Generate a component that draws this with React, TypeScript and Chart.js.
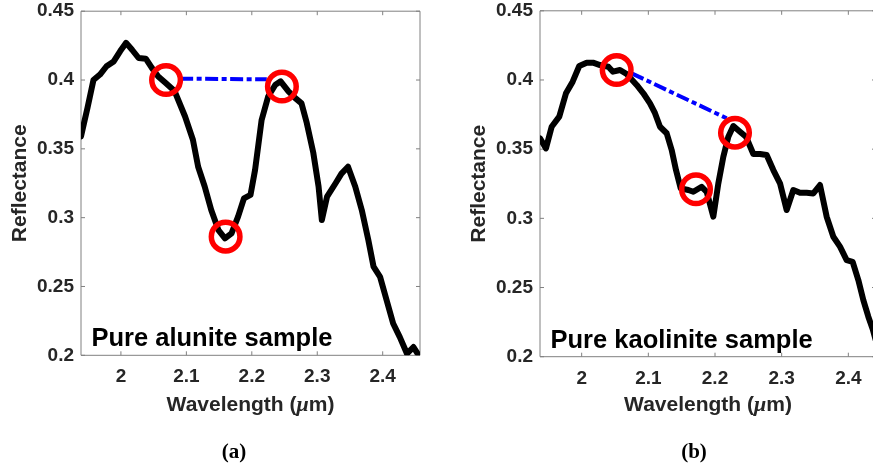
import React, { useEffect, useRef } from "react";
import { Chart, registerables } from "chart.js";

Chart.register(...registerables);

// ---------- Data: Pure alunite sample (panel a) ----------
const alWavelength = [1.939, 1.949, 1.958, 1.968, 1.978, 1.989, 1.999, 2.008, 2.017, 2.027, 2.038, 2.047, 2.057, 2.068, 2.082, 2.098, 2.110, 2.118, 2.128, 2.138, 2.149, 2.159, 2.169, 2.179, 2.188, 2.198, 2.205, 2.215, 2.225, 2.236, 2.244, 2.256, 2.266, 2.276, 2.284, 2.294, 2.302, 2.307, 2.315, 2.328, 2.337, 2.347, 2.358, 2.368, 2.378, 2.386, 2.396, 2.406, 2.416, 2.426, 2.437, 2.447, 2.455];
const alReflectance = [0.359, 0.380, 0.400, 0.404, 0.410, 0.4135, 0.421, 0.427, 0.422, 0.416, 0.4155, 0.409, 0.4026, 0.398, 0.392, 0.3735, 0.3566, 0.337, 0.3226, 0.3056, 0.291, 0.285, 0.2886, 0.3007, 0.314, 0.3165, 0.3347, 0.371, 0.388, 0.3966, 0.399, 0.3917, 0.387, 0.383, 0.3687, 0.347, 0.3226, 0.2983, 0.3153, 0.325, 0.332, 0.337, 0.3226, 0.3056, 0.2838, 0.2644, 0.257, 0.240, 0.2231, 0.2134, 0.2013, 0.206, 0.200];
const alCircleX = [2.069, 2.160, 2.246];
const alCircleY = [0.400, 0.2862, 0.3953];
const alLineX = [2.0905, 2.2229];
const alLineY = [0.401, 0.4005];

// ---------- Data: Pure kaolinite sample (panel b) ----------
const kaWavelength = [1.9375, 1.9465, 1.955, 1.9664, 1.9765, 1.9865, 1.9964, 2.0075, 2.017, 2.0275, 2.04, 2.047, 2.0575, 2.0675, 2.0825, 2.0925, 2.1025, 2.11, 2.1175, 2.1275, 2.135, 2.1415, 2.1485, 2.16, 2.1675, 2.18, 2.1875, 2.1975, 2.205, 2.2125, 2.22, 2.2275, 2.2375, 2.2465, 2.2575, 2.2675, 2.2775, 2.2875, 2.2975, 2.3075, 2.3175, 2.3275, 2.3375, 2.3475, 2.3575, 2.3675, 2.3775, 2.3875, 2.3975, 2.4065, 2.415, 2.4225, 2.43, 2.437, 2.441];
const kaReflectance = [0.3578, 0.3506, 0.3662, 0.3735, 0.3904, 0.3988, 0.4101, 0.4125, 0.4125, 0.4108, 0.4096, 0.406, 0.4072, 0.4043, 0.3964, 0.3904, 0.3831, 0.376, 0.3662, 0.3615, 0.3494, 0.3349, 0.3217, 0.3205, 0.3192, 0.3228, 0.3192, 0.3012, 0.3253, 0.3445, 0.359, 0.3667, 0.3626, 0.359, 0.3465, 0.3465, 0.3458, 0.3349, 0.3253, 0.306, 0.3205, 0.3185, 0.3185, 0.318, 0.3241, 0.3012, 0.2867, 0.2795, 0.2698, 0.2686, 0.2554, 0.2409, 0.2289, 0.2192, 0.212];
const kaCircleX = [2.0525, 2.1715, 2.23];
const kaCircleY = [0.4072, 0.321, 0.3619];
const kaLineX = [2.075, 2.2175];
const kaLineY = [0.4048, 0.3723];

// ---------- Ticks ----------
const xTickValues = [2.0, 2.1, 2.2, 2.3, 2.4];
const xTickLabels = ["2", "2.1", "2.2", "2.3", "2.4"];
const yTickValues = [0.2, 0.25, 0.3, 0.35, 0.4, 0.45];
const yTickLabels = ["0.2", "0.25", "0.3", "0.35", "0.4", "0.45"];

const FONT = "'Liberation Sans', Arial, Helvetica, sans-serif";
const SERIF = "'Liberation Serif', 'Times New Roman', serif";
const AXIS_COLOR = "#808080";
const TEXT_COLOR = "#262626";
const TICK_LEN = 4;
const CANVAS_H = 468;
const AXIS_BOTTOM = 415.6;
const X_TITLE_BASELINE = 411;

function pts(xs: number[], ys: number[]) {
  return xs.map((x, i) => ({ x, y: ys[i] }));
}

function labelFor(values: number[], labels: string[], v: number) {
  const i = values.findIndex((t) => Math.abs(t - v) < 1e-9);
  return i >= 0 ? labels[i] : "";
}

const boxPlugin = {
  id: "matlabBox",
  beforeDatasetsDraw(chart: any) {
    const { ctx, chartArea: a, scales } = chart;
    const xs = scales.x;
    const ys = scales.y;
    ctx.save();
    ctx.strokeStyle = AXIS_COLOR;
    ctx.lineWidth = 1;
    ctx.beginPath();
    ctx.rect(a.left, a.top, a.right - a.left, a.bottom - a.top);
    xs.ticks.forEach((t: any) => {
      const px = xs.getPixelForValue(t.value);
      ctx.moveTo(px, a.bottom);
      ctx.lineTo(px, a.bottom - TICK_LEN);
      ctx.moveTo(px, a.top);
      ctx.lineTo(px, a.top + TICK_LEN);
    });
    ys.ticks.forEach((t: any) => {
      const py = ys.getPixelForValue(t.value);
      ctx.moveTo(a.left, py);
      ctx.lineTo(a.left + TICK_LEN, py);
      ctx.moveTo(a.right, py);
      ctx.lineTo(a.right - TICK_LEN, py);
    });
    ctx.stroke();
    ctx.restore();
  },
};

const labelPlugin = {
  id: "sampleLabel",
  afterDatasetsDraw(chart: any, _args: any, opts: any) {
    const { ctx, chartArea } = chart;
    ctx.save();
    ctx.font = `bold 25.5px ${FONT}`;
    ctx.fillStyle = "#000";
    ctx.textAlign = "left";
    ctx.textBaseline = "alphabetic";
    ctx.fillText(opts.text, chartArea.left + 10.5, chartArea.bottom - 9);
    ctx.restore();
  },
};

// x-axis title with an italic Greek mu, like the MATLAB TeX label
const xTitlePlugin = {
  id: "xTitle",
  afterDraw(chart: any) {
    const { ctx, chartArea } = chart;
    const parts: [string, string][] = [
      ["Wavelength (", `bold 21px ${FONT}`],
      ["μ", `italic bold 22px ${SERIF}`],
      ["m)", `bold 21px ${FONT}`],
    ];
    ctx.save();
    let total = 0;
    const widths = parts.map(([t, f]) => {
      ctx.font = f;
      const w = ctx.measureText(t).width;
      total += w;
      return w;
    });
    let x = (chartArea.left + chartArea.right) / 2 - total / 2;
    ctx.fillStyle = TEXT_COLOR;
    ctx.textAlign = "left";
    ctx.textBaseline = "alphabetic";
    parts.forEach(([t, f], i) => {
      ctx.font = f;
      ctx.fillText(t, x, X_TITLE_BASELINE);
      x += widths[i];
    });
    ctx.restore();
  },
};

type Panel = {
  wl: number[];
  refl: number[];
  circleX: number[];
  circleY: number[];
  lineX: number[];
  lineY: number[];
  xMin: number;
  xMax: number;
  label: string;
  yAxisWidth: number;
  padRight: number;
  top: number;
  bottom: number;
  yTitlePad: number;
};

function makeConfig(p: Panel): any {
  const tickFont = { family: FONT, size: 19, weight: "bold" };
  const titleFont = { family: FONT, size: 21, weight: "bold" };
  return {
    type: "line",
    data: {
      datasets: [
        {
          data: pts(p.circleX, p.circleY),
          showLine: false,
          pointRadius: 14.3,
          pointHoverRadius: 14.3,
          pointBorderWidth: 5.5,
          pointBorderColor: "#ff0000",
          pointBackgroundColor: "rgba(0,0,0,0)",
          borderColor: "#ff0000",
          clip: false,
        },
        {
          data: pts(p.wl, p.refl),
          borderColor: "#000000",
          borderWidth: 6,
          pointRadius: 0,
          tension: 0,
          borderJoinStyle: "round",
          borderCapStyle: "round",
        },
        {
          data: pts(p.lineX, p.lineY),
          borderColor: "#0000ff",
          borderWidth: 4,
          borderDash: [13, 3.5, 5, 3.5],
          pointRadius: 0,
          tension: 0,
        },
      ],
    },
    options: {
      animation: false,
      responsive: false,
      maintainAspectRatio: false,
      events: [],
      layout: {
        autoPadding: false,
        padding: { left: 0, right: p.padRight, top: p.top, bottom: CANVAS_H - AXIS_BOTTOM },
      },
      plugins: {
        legend: { display: false },
        tooltip: { enabled: false },
        sampleLabel: { text: p.label },
      },
      scales: {
        x: {
          type: "linear",
          min: p.xMin,
          max: p.xMax,
          afterBuildTicks: (s: any) => {
            s.ticks = xTickValues.map((v) => ({ value: v }));
          },
          afterFit: (s: any) => {
            s.height = AXIS_BOTTOM - p.bottom;
            s.paddingLeft = 0;
            s.paddingRight = 0;
          },
          grid: { display: false, drawTicks: false },
          border: { display: false },
          ticks: {
            padding: 10.5,
            color: TEXT_COLOR,
            font: tickFont,
            maxRotation: 0,
            autoSkip: false,
            callback: (v: number) => labelFor(xTickValues, xTickLabels, v),
          },
          title: { display: false },
        },
        y: {
          type: "linear",
          min: 0.2,
          max: 0.45,
          afterBuildTicks: (s: any) => {
            s.ticks = yTickValues.map((v) => ({ value: v }));
          },
          afterFit: (s: any) => {
            s.width = p.yAxisWidth;
            s.paddingTop = 0;
            s.paddingBottom = 0;
          },
          grid: { display: false, drawTicks: false },
          border: { display: false },
          ticks: {
            padding: 7,
            color: TEXT_COLOR,
            font: tickFont,
            autoSkip: false,
            callback: (v: number) => labelFor(yTickValues, yTickLabels, v),
          },
          title: {
            display: true,
            text: "Reflectance",
            color: TEXT_COLOR,
            font: titleFont,
            padding: { top: p.yTitlePad, bottom: 0 },
          },
        },
      },
    },
    plugins: [boxPlugin, labelPlugin, xTitlePlugin],
  };
}

const panelA: Panel = {
  wl: alWavelength,
  refl: alReflectance,
  circleX: alCircleX,
  circleY: alCircleY,
  lineX: alLineX,
  lineY: alLineY,
  xMin: 1.939,
  xMax: 2.457,
  label: "Pure alunite sample",
  yAxisWidth: 81,
  padRight: 20,
  top: 11.2,
  bottom: 355.3,
  yTitlePad: 8,
};

const panelB: Panel = {
  wl: kaWavelength,
  refl: kaReflectance,
  circleX: kaCircleX,
  circleY: kaCircleY,
  lineX: kaLineX,
  lineY: kaLineY,
  xMin: 1.9375,
  xMax: 2.4415,
  label: "Pure kaolinite sample",
  yAxisWidth: 100,
  padRight: 9,
  top: 10.8,
  bottom: 356.7,
  yTitlePad: 26.6,
};

function PanelChart({ panel, left, width }: { panel: Panel; left: number; width: number }) {
  const ref = useRef<HTMLCanvasElement | null>(null);
  useEffect(() => {
    if (!ref.current) return;
    const chart = new Chart(ref.current, makeConfig(panel));
    return () => chart.destroy();
  }, [panel]);
  return (
    <canvas
      ref={ref}
      width={width}
      height={CANVAS_H}
      style={{ position: "absolute", left, top: 0, width, height: CANVAS_H }}
    />
  );
}

const captionStyle: React.CSSProperties = {
  position: "absolute",
  top: 441,
  transform: "translateX(-50%)",
  fontFamily: SERIF,
  fontWeight: "bold",
  fontSize: 21,
  lineHeight: "21px",
  color: "#000",
  whiteSpace: "nowrap",
};

export default function App() {
  return (
    <div
      style={{
        position: "fixed",
        left: 0,
        top: 0,
        width: 873,
        height: 468,
        overflow: "hidden",
        background: "#ffffff",
      }}
    >
      <PanelChart panel={panelA} left={0} width={440} />
      <PanelChart panel={panelB} left={440} width={445} />
      <div style={{ ...captionStyle, left: 234 }}>(a)</div>
      <div style={{ ...captionStyle, left: 694 }}>(b)</div>
    </div>
  );
}
